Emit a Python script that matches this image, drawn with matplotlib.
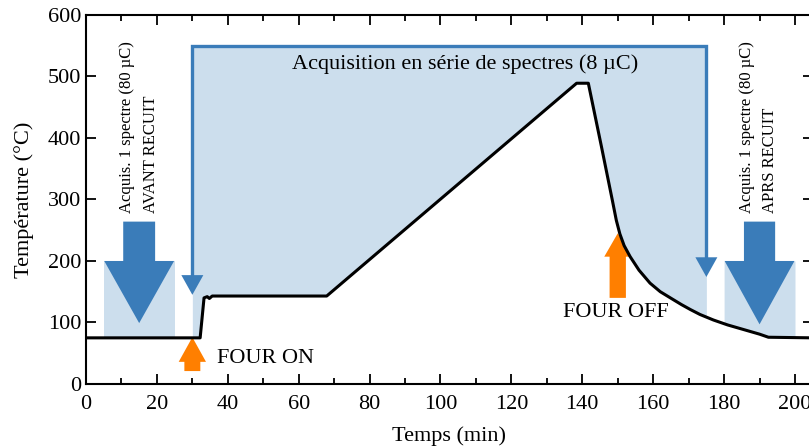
import numpy as np
import matplotlib
matplotlib.use("Agg")
import matplotlib.pyplot as plt
from matplotlib.ticker import MultipleLocator

plt.rcParams['font.family'] = ['Liberation Serif', 'DejaVu Serif']

# ---- data: temperature profile ----
time_min = [0, 32.2, 33.3, 34.2, 34.8, 35.6, 67.9, 138.4, 141.7, 145.4,
            148.5, 149.6, 150.6, 151.8, 153.5, 156.0, 159.1, 162.0, 165.7,
            168.0, 170.5, 173.2, 177.0, 181.0, 186.4, 190.0, 192.5, 205]
temp_c = [75, 75, 140, 142, 139, 143, 143, 489, 489, 386,
          298, 266, 244, 225, 207, 185, 164, 150, 137,
          129, 121, 113, 104, 96, 87, 81, 76, 75]

# ---- annotation values ----
box_before = (5, 25)       # acquisition before annealing (min)
box_series = (30, 175)     # series acquisition (min)
box_after = (180, 200)     # acquisition after annealing (min)
box_low_top = 200
box_series_top = 550
four_on_t = 30
four_off_t = 150

light = '#ccdeed'
blue = '#3a7cb9'
orange = '#ff7f00'

fig = plt.figure(figsize=(8.09, 4.48), dpi=100)
ax = fig.add_axes([0.1063, 0.1429, 0.8983, 0.8237])

xs = np.linspace(0, 205, 4101)
ys = np.interp(xs, time_min, temp_c)
for (a, b), top in [(box_before, box_low_top), (box_series, box_series_top), (box_after, box_low_top)]:
    m = (xs >= a) & (xs <= b)
    ax.fill_between(xs[m], ys[m], top, color=light, lw=0, zorder=1)

# series bracket
ax.plot([box_series[0], box_series[0], box_series[1], box_series[1]],
        [177, box_series_top, box_series_top, 206], color=blue, lw=2.4,
        solid_joinstyle='miter', zorder=2)
ax.fill([box_series[0] - 3.1, box_series[0] + 3.1, box_series[0]], [177, 177, 145], color=blue, lw=0, zorder=2)
ax.fill([box_series[1] - 3.1, box_series[1] + 3.1, box_series[1]], [206, 206, 174], color=blue, lw=0, zorder=2)

# big arrows
ax.arrow(15, 264, 0, -165, width=9, head_width=19.7, head_length=101,
         length_includes_head=True, color=blue, lw=0, zorder=2)
ax.arrow(190, 264, 0, -167, width=8.8, head_width=19.7, head_length=103,
         length_includes_head=True, color=blue, lw=0, zorder=2)

# orange arrows
ax.arrow(four_on_t, 21, 0, 55, width=4.5, head_width=7.7, head_length=40,
         length_includes_head=True, color=orange, lw=0, zorder=2)
ax.arrow(four_off_t, 140, 0, 105, width=4.6, head_width=7.6, head_length=38,
         length_includes_head=True, color=orange, lw=0, zorder=2)

ax.plot(time_min, temp_c, color='black', lw=2.2, zorder=3, solid_joinstyle='round')

fs = 16
ax.text(107, 520, 'Acquisition en série de spectres (8 µC)', fontsize=fs,
        ha='center', va='center', zorder=4)
ax.text(four_on_t + 7, 42, 'FOUR ON', fontsize=fs, ha='left', va='center', zorder=4)
ax.text(134.6, 117, 'FOUR OFF', fontsize=fs, ha='left', va='center', zorder=4)
vfs = 12
ax.text(11.7, 278, 'Acquis. 1 spectre (80 µC)', rotation=90, fontsize=vfs,
        ha='center', va='bottom', zorder=4)
ax.text(18.2, 278, 'AVANT RECUIT', rotation=90, fontsize=vfs,
        ha='center', va='bottom', zorder=4)
ax.text(186.4, 278, 'Acquis. 1 spectre (80 µC)', rotation=90, fontsize=vfs,
        ha='center', va='bottom', zorder=4)
ax.text(193.0, 278, 'APRS RECUIT', rotation=90, fontsize=vfs,
        ha='center', va='bottom', zorder=4)

ax.set_xlim(0, 205)
ax.set_ylim(0, 600)
ax.xaxis.set_major_locator(MultipleLocator(20))
ax.xaxis.set_minor_locator(MultipleLocator(10))
ax.yaxis.set_major_locator(MultipleLocator(100))
ax.tick_params(which='both', direction='in', top=True, right=True, labelsize=fs, width=1.3)
ax.tick_params(which='major', length=7)
ax.tick_params(which='minor', length=4)
ax.tick_params(axis='x', which='major', pad=8)
for s in ax.spines.values():
    s.set_linewidth(1.5)
ax.set_xlabel('Temps (min)', fontsize=fs, labelpad=9)
ax.set_ylabel('Température (°C)', fontsize=fs, labelpad=10)

fig.savefig('out.png', dpi=100)
